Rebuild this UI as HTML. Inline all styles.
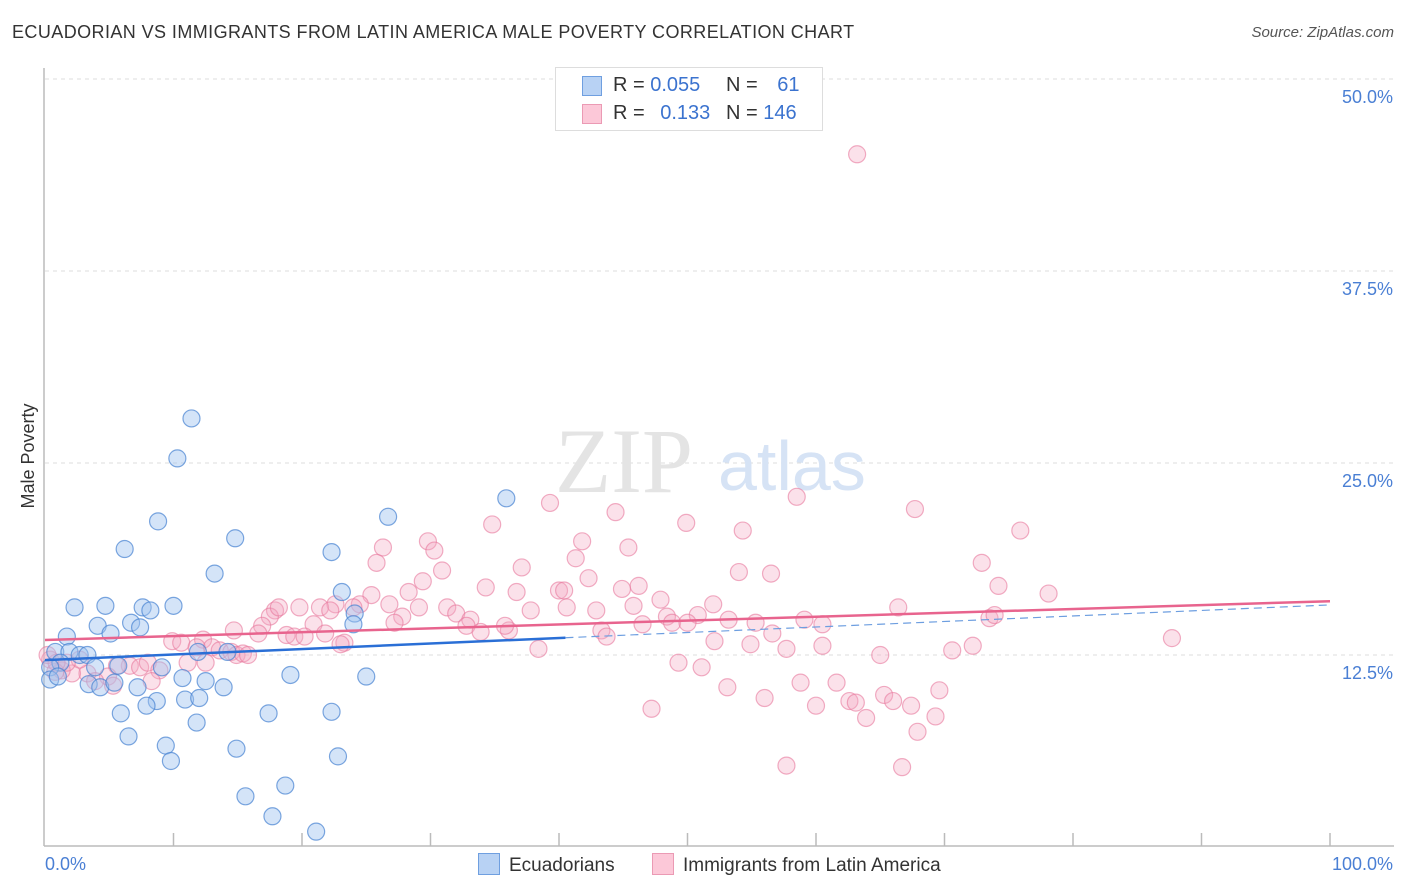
<!DOCTYPE html>
<html><head><meta charset="utf-8">
<style>
body{margin:0;background:#fff;font-family:"Liberation Sans",sans-serif;}
#wrap{position:relative;width:1406px;height:892px;overflow:hidden;}
.t{position:absolute;white-space:nowrap;}
</style></head>
<body>
<div id="wrap">
<div class="t" style="left:12px;top:22px;font-size:18px;color:#333;letter-spacing:0.42px">ECUADORIAN VS IMMIGRANTS FROM LATIN AMERICA MALE POVERTY CORRELATION CHART</div>
<div class="t" style="right:12px;top:24px;font-size:15px;color:#555;font-style:italic">Source: ZipAtlas.com</div>
<svg id="svg" width="1406" height="892" style="position:absolute;left:0;top:0"></svg>
</div>
<script>
const yTicks=[12.5,25,37.5,50];
const yTickLabels=["12.5%","25.0%","37.5%","50.0%"];
const xTickLabels=["0.0%","100.0%"];
const blueX=[11.4,10.3,8.8,6.2,14.8,13.2,26.7,35.9,22.3,23.1,24.1,2.3,4.7,7.6,8.2,10.0,6.7,7.4,4.1,5.1,1.7,0.8,1.9,2.7,3.3,1.2,0.4,3.9,5.7,9.1,14.2,0.4,1.0,3.4,4.3,5.4,7.2,10.7,12.5,13.9,19.1,25.0,10.9,12.0,8.7,7.9,5.9,17.4,22.3,11.8,6.5,9.4,14.9,9.8,22.8,15.6,18.7,17.7,21.1,11.9,24.0];
const blueY=[27.9,25.3,21.2,19.4,20.1,17.8,21.5,22.7,19.2,16.6,15.2,15.6,15.7,15.6,15.4,15.7,14.6,14.3,14.4,13.9,13.7,12.7,12.7,12.5,12.5,12.0,11.7,11.7,11.8,11.7,12.7,10.9,11.1,10.6,10.4,10.7,10.4,11.0,10.8,10.4,11.2,11.1,9.6,9.7,9.5,9.2,8.7,8.7,8.8,8.1,7.2,6.6,6.4,5.6,5.9,3.3,4.0,2.0,1.0,12.7,14.5];
const pinkX=[63.2,58.5,39.3,44.4,49.9,34.8,54.3,67.7,75.9,29.8,30.3,26.3,41.3,41.8,45.4,37.1,25.8,54.0,56.5,72.9,30.9,42.3,29.4,34.3,36.7,28.3,40.0,40.4,46.2,44.9,74.2,78.1,25.4,26.8,24.5,24.0,22.6,21.4,22.2,19.8,17.9,17.5,18.2,29.1,31.3,32.0,33.1,32.8,33.9,36.1,35.8,37.8,40.6,42.9,45.8,47.9,48.4,50.8,52.0,53.2,55.3,59.1,60.5,66.4,73.5,73.9,27.8,27.2,16.9,16.6,14.7,20.9,21.8,18.8,19.4,20.2,23.3,23.0,12.3,9.9,10.6,11.8,13.0,13.6,14.5,14.9,15.4,15.8,38.4,43.3,43.7,46.5,48.8,50.0,52.1,54.9,56.6,57.7,60.5,65.0,70.6,72.2,87.7,49.3,51.1,6.6,7.4,8.0,8.9,11.1,12.5,5.6,4.9,3.3,2.1,1.3,2.7,1.7,0.4,0.8,3.9,5.3,8.3,53.1,56.0,58.8,61.6,60.0,62.6,63.1,65.3,66.0,67.4,69.6,47.2,69.3,63.9,67.9,57.7,66.7,0.9,0.2];
const pinkY=[45.1,22.8,22.4,21.8,21.1,21.0,20.6,22.0,20.6,19.9,19.3,19.5,18.8,19.9,19.5,18.2,18.5,17.9,17.8,18.5,18.0,17.5,17.3,16.9,16.6,16.6,16.7,16.7,17.0,16.8,17.0,16.5,16.4,15.8,15.8,15.6,15.8,15.6,15.4,15.6,15.4,15.0,15.6,15.6,15.6,15.2,14.8,14.4,14.0,14.1,14.4,15.4,15.6,15.4,15.7,16.1,15.0,15.1,15.8,14.8,14.6,14.8,14.5,15.6,14.9,15.1,15.0,14.6,14.4,13.9,14.1,14.5,13.9,13.8,13.7,13.7,13.3,13.2,13.5,13.4,13.3,13.0,13.0,12.8,12.7,12.5,12.6,12.5,12.9,14.1,13.7,14.5,14.6,14.6,13.4,13.2,13.9,12.9,13.1,12.5,12.8,13.1,13.6,12.0,11.7,11.8,11.7,12.0,11.5,12.0,12.0,11.8,11.1,11.3,11.3,11.5,12.2,12.0,12.2,11.4,10.8,10.5,10.8,10.4,9.7,10.7,10.7,9.2,9.5,9.4,9.9,9.5,9.2,10.2,9.0,8.5,8.4,7.5,5.3,5.2,12.0,12.5];
const blueTrend=[12.17,15.76];
const blueSolidEnd=40.5;
const pinkTrend=[13.48,16.0];

const NS="http://www.w3.org/2000/svg";
const svg=document.getElementById('svg');
const X0=45,X1=1330,Y0=847,PPY=15.36;
const sx=v=>X0+(X1-X0)*v/100;
const sy=v=>Y0-v*PPY;
function mk(tag,attrs,parent){const e=document.createElementNS(NS,tag);for(const k in attrs)e.setAttribute(k,attrs[k]);(parent||svg).appendChild(e);return e;}

yTicks.forEach((t,i)=>{
  const g=mk('line',{x1:45,x2:1394,y1:sy(t),y2:sy(t),stroke:'#ddd','stroke-dasharray':'4,4','stroke-width':1});
  
  
  const tx=mk('text',{x:1393,y:sy(t)+24,'text-anchor':'end','font-size':18,fill:'#4a7fd4','font-family':'Liberation Sans, sans-serif'});
  tx.textContent=yTickLabels[i];
  
  
});
const ax=mk('line',{x1:44,x2:44,y1:68,y2:846,stroke:'#bbb','stroke-width':1.5});


const bx=mk('line',{x1:44,x2:1394,y1:846,y2:846,stroke:'#bbb','stroke-width':1.5});


for(let i=1;i<=10;i++){
  const tk=mk('line',{x1:sx(i*10),x2:sx(i*10),y1:833,y2:846,stroke:'#bbb','stroke-width':1.5});
  
  
}
const xl0=mk('text',{x:45,y:870,'font-size':18,fill:'#4a7fd4','font-family':'Liberation Sans, sans-serif'});
xl0.textContent=xTickLabels[0];


const xl1=mk('text',{x:1393,y:870,'text-anchor':'end','font-size':18,fill:'#4a7fd4','font-family':'Liberation Sans, sans-serif'});
xl1.textContent=xTickLabels[1];


const yt=mk('text',{x:34,y:456,'text-anchor':'middle','font-size':18,fill:'#333',transform:'rotate(-90 34 456)','font-family':'Liberation Sans, sans-serif'});
yt.textContent='Male Poverty';


const wm=mk('text',{x:555,y:492,'font-size':92,fill:'#e4e4e4','font-family':'Liberation Serif, serif'});
wm.textContent='ZIP';


const wm2=mk('text',{x:718,y:490,'font-size':70,fill:'#d6e3f5','font-family':'Liberation Sans, sans-serif'});
wm2.textContent='atlas';



pinkX.forEach((v,i)=>{
  const c=mk('circle',{cx:sx(v),cy:sy(pinkY[i]),r:8.5,fill:'rgba(244,168,194,0.35)',stroke:'rgba(232,120,156,0.6)','stroke-width':1.2});
  
  
});
blueX.forEach((v,i)=>{
  const c=mk('circle',{cx:sx(v),cy:sy(blueY[i]),r:8.5,fill:'rgba(160,196,240,0.45)',stroke:'rgba(70,130,210,0.7)','stroke-width':1.2});
  
  
});
const by=x=>blueTrend[0]+(blueTrend[1]-blueTrend[0])*x/100;
const bd=mk('line',{x1:sx(blueSolidEnd),y1:sy(by(blueSolidEnd)),x2:sx(100),y2:sy(by(100)),stroke:'#6d9ee0','stroke-width':1.2,'stroke-dasharray':'8,5'});


const pl=mk('line',{x1:sx(0),y1:sy(pinkTrend[0]),x2:sx(100),y2:sy(pinkTrend[1]),stroke:'#e8648e','stroke-width':2.5});


const bl=mk('line',{x1:sx(0),y1:sy(by(0)),x2:sx(blueSolidEnd),y2:sy(by(blueSolidEnd)),stroke:'#2a6fd6','stroke-width':2.5});


</script>

<div class="t" style="left:555px;top:67px;width:266px;height:62px;border:1px solid #ddd;background:#fff;font-size:20px;color:#333">
  <div style="position:absolute;left:26px;top:8px;width:18px;height:18px;background:#b8d2f4;border:1px solid #6f9fe0"></div>
  <div style="position:absolute;left:26px;top:36px;width:18px;height:18px;background:#fcc8d8;border:1px solid #eb9ab4"></div>
  <div style="position:absolute;left:57px;top:6px">R = <span style="color:#3b73cf">0.055</span></div>
  <div style="position:absolute;left:170px;top:6px">N = <span style="color:#3b73cf;margin-left:14px">61</span></div>
  <div style="position:absolute;left:57px;top:34px">R = <span style="color:#3b73cf;margin-left:10px">0.133</span></div>
  <div style="position:absolute;left:170px;top:34px">N = <span style="color:#3b73cf">146</span></div>
</div>

<div class="t" style="left:478px;top:853px;font-size:19px;color:#333">
  <span style="display:inline-block;width:20px;height:20px;background:#b8d2f4;border:1px solid #6f9fe0;vertical-align:-4px;margin-right:9px"></span>Ecuadorians</div>
<div class="t" style="left:652px;top:853px;font-size:19px;color:#333">
  <span style="display:inline-block;width:20px;height:20px;background:#fcc8d8;border:1px solid #eb9ab4;vertical-align:-4px;margin-right:9px"></span>Immigrants from Latin America</div>
</body></html>
